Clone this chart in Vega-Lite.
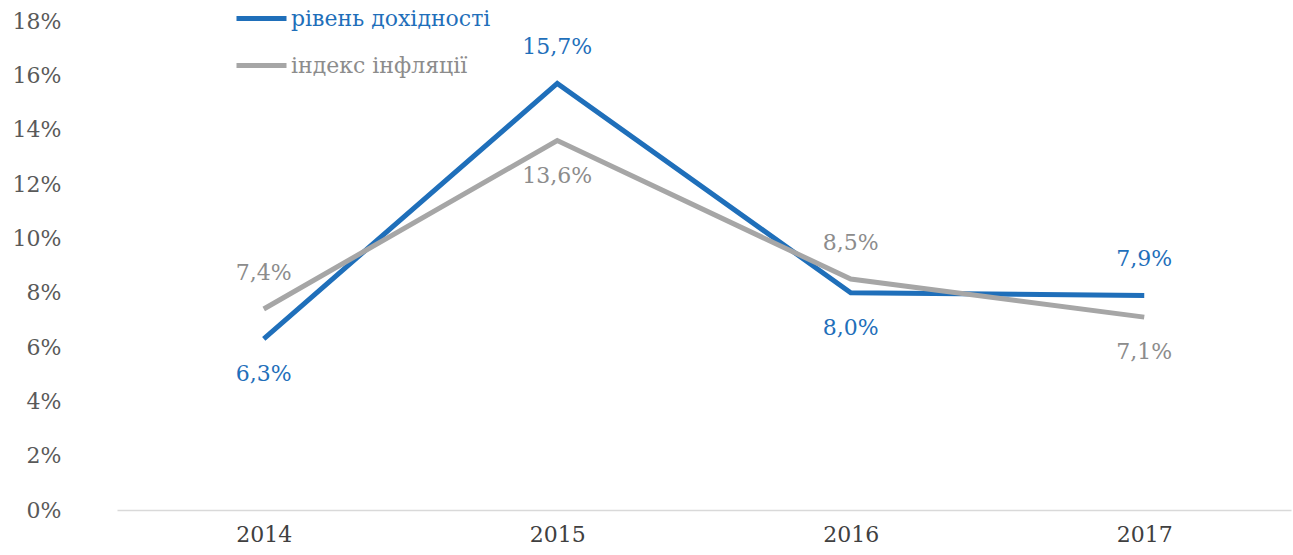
{
  "$schema": "https://vega.github.io/schema/vega-lite/v6.json",
  "width": 1174,
  "height": 489,
  "autosize": {"type": "none"},
  "padding": {"left": 117, "top": 21, "right": 2, "bottom": 45},
  "background": "white",
  "config": {
    "view": {"stroke": null},
    "font": "DejaVu Serif",
    "locale": {"number": {"decimal": ",", "thousands": " ", "grouping": [3], "currency": ["", ""]}}
  },
  "data": {
    "values": [
      {"year": "2014", "series": "рівень дохідності", "value": 0.063},
      {"year": "2015", "series": "рівень дохідності", "value": 0.157},
      {"year": "2016", "series": "рівень дохідності", "value": 0.080},
      {"year": "2017", "series": "рівень дохідності", "value": 0.079},
      {"year": "2014", "series": "індекс інфляції", "value": 0.074},
      {"year": "2015", "series": "індекс інфляції", "value": 0.136},
      {"year": "2016", "series": "індекс інфляції", "value": 0.085},
      {"year": "2017", "series": "індекс інфляції", "value": 0.071}
    ]
  },
  "encoding": {
    "x": {
      "field": "year", "type": "ordinal",
      "scale": {"type": "point", "padding": 0.5},
      "axis": {"title": null, "orient": "bottom", "labelAngle": 0, "ticks": false, "domainColor": "#d9d9d9", "domainWidth": 1.5, "labelFont": "DejaVu Serif", "labelFontSize": 22, "labelColor": "#404040", "labelPadding": 14}
    },
    "y": {
      "field": "value", "type": "quantitative",
      "scale": {"domain": [0, 0.18]},
      "axis": {"title": null, "format": ".0%", "values": [0, 0.02, 0.04, 0.06, 0.08, 0.1, 0.12, 0.14, 0.16, 0.18], "grid": false, "domain": false, "ticks": false, "labelFont": "DejaVu Serif", "labelFontSize": 22, "labelColor": "#595959", "labelPadding": 56}
    }
  },
  "layer": [
    {
      "mark": {"type": "line", "strokeWidth": 5},
      "encoding": {
        "color": {
          "field": "series", "type": "nominal",
          "scale": {"domain": ["рівень дохідності", "індекс інфляції"], "range": ["#1f6fba", "#a6a6a6"]},
          "legend": {
            "title": null, "orient": "none", "legendX": 117, "legendY": -30,
            "symbolType": "stroke", "symbolSize": 2500, "symbolStrokeWidth": 5,
            "labelFont": "DejaVu Serif", "labelFontSize": 22, "labelOffset": 2, "labelLimit": 0, "rowPadding": 8,
            "encode": {"labels": {"update": {"fill": {"signal": "datum.value === 'рівень дохідності' ? '#1f6fba' : '#8c8c8c'"}}}}
          }
        }
      }
    },
    {
      "transform": [{"filter": "(datum.series === 'рівень дохідності' && (datum.year === '2015' || datum.year === '2017')) || (datum.series === 'індекс інфляції' && (datum.year === '2014' || datum.year === '2016'))"}],
      "mark": {"type": "text", "dy": -36, "fontSize": 22, "font": "DejaVu Serif"},
      "encoding": {
        "text": {"field": "value", "type": "quantitative", "format": ".1%"},
        "color": {"condition": {"test": "datum.series === 'рівень дохідності'", "value": "#1f6fba"}, "value": "#8c8c8c"}
      }
    },
    {
      "transform": [{"filter": "!((datum.series === 'рівень дохідності' && (datum.year === '2015' || datum.year === '2017')) || (datum.series === 'індекс інфляції' && (datum.year === '2014' || datum.year === '2016')))"}],
      "mark": {"type": "text", "dy": 35, "fontSize": 22, "font": "DejaVu Serif"},
      "encoding": {
        "text": {"field": "value", "type": "quantitative", "format": ".1%"},
        "color": {"condition": {"test": "datum.series === 'рівень дохідності'", "value": "#1f6fba"}, "value": "#8c8c8c"}
      }
    }
  ]
}
